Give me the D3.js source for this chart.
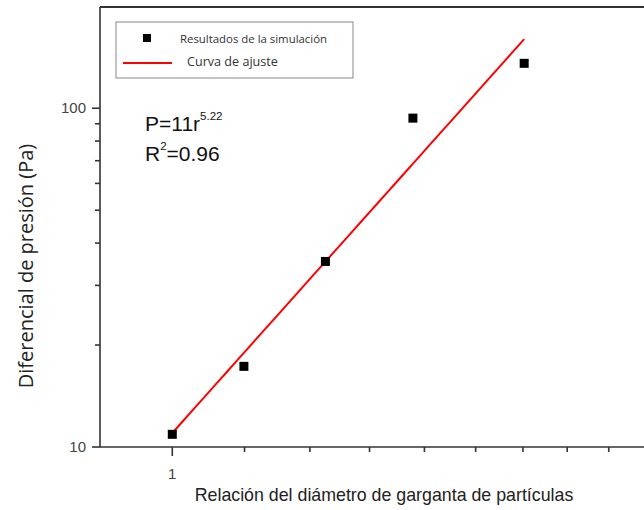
<!DOCTYPE html>
<html>
<head>
<meta charset="utf-8">
<script src="https://cdn.jsdelivr.net/npm/d3@7"></script>
<style>
  body { margin: 0; background: #fff; }
  svg { display: block; }
</style>
</head>
<body>
<svg id="chart" width="644" height="510"></svg>
<script>
// simulation results
var ratio = [1.0, 1.11, 1.25, 1.42, 1.67];
var pressure = [10.9, 17.3, 35.3, 93.5, 135.7];

// fitted power law P = 11 r^5.22
var fitA = 11, fitB = 5.22;
var fitRange = [1.0, 1.67];

var xMajor = [1, 2];
var xMinor = [1.111, 1.222, 1.333, 1.444, 1.556, 1.667, 1.778, 1.889];
var yMajor = [10, 100];
var yMinor = [20, 30, 40, 50, 60, 70, 80, 90];

var svg = d3.select("#chart");
var axisCol = "#333";

// x: 1 at 172.4 px, one decade ~1580 px (the right part falls outside the picture)
var x = d3.scaleLog().domain([0.9, 2.1]).range([100, 100 + 1580 * Math.log10(2.1 / 0.9)]);
var y = d3.scaleLog().domain([10, 199]).range([447, 7]);

// frame: left axis, bottom axis, top line
svg.append("line").attr("x1", 100).attr("x2", 100).attr("y1", 7).attr("y2", 447)
  .attr("stroke", axisCol).attr("stroke-width", 1.6);
svg.append("line").attr("x1", 100).attr("x2", 700).attr("y1", 447).attr("y2", 447)
  .attr("stroke", axisCol).attr("stroke-width", 1.6);
svg.append("line").attr("x1", 100).attr("x2", 700).attr("y1", 7).attr("y2", 7)
  .attr("stroke", axisCol).attr("stroke-width", 2);

// x ticks
var gx = svg.append("g");
gx.selectAll(".maj").data(xMajor).enter().append("line")
  .attr("x1", d => x(d)).attr("x2", d => x(d)).attr("y1", 447).attr("y2", 456)
  .attr("stroke", axisCol).attr("stroke-width", 1.6);
gx.selectAll(".min").data(xMinor).enter().append("line")
  .attr("x1", d => x(d)).attr("x2", d => x(d)).attr("y1", 447).attr("y2", 452)
  .attr("stroke", axisCol).attr("stroke-width", 1.6);
gx.selectAll("text").data(xMajor).enter().append("text")
  .attr("x", d => x(d)).attr("y", 479).attr("text-anchor", "middle")
  .attr("font-family", "Arial, 'Liberation Sans', sans-serif").attr("font-size", 15)
  .attr("fill", "#444").text(d => d);

// y ticks
var gy = svg.append("g");
gy.selectAll(".maj").data(yMajor).enter().append("line")
  .attr("x1", 92).attr("x2", 100).attr("y1", d => y(d)).attr("y2", d => y(d))
  .attr("stroke", axisCol).attr("stroke-width", 1.6);
gy.selectAll(".min").data(yMinor).enter().append("line")
  .attr("x1", 95).attr("x2", 100).attr("y1", d => y(d)).attr("y2", d => y(d))
  .attr("stroke", axisCol).attr("stroke-width", 1.6);
gy.selectAll("text").data(yMajor).enter().append("text")
  .attr("x", 86).attr("y", d => y(d) + 5).attr("text-anchor", "end")
  .attr("font-family", "Arial, 'Liberation Sans', sans-serif").attr("font-size", 15)
  .attr("fill", "#444").text(d => d);

// fitted curve
var fitPts = d3.range(0, 41).map(function(i) {
  var r = fitRange[0] + (fitRange[1] - fitRange[0]) * i / 40;
  return [r, fitA * Math.pow(r, fitB)];
});
svg.append("path").datum(fitPts)
  .attr("d", d3.line().x(d => x(d[0])).y(d => y(d[1])))
  .attr("fill", "none").attr("stroke", "#ff0000").attr("stroke-width", 2);

// simulation points
var sq = 9;
svg.selectAll(".pt").data(ratio).enter().append("rect")
  .attr("x", (d, i) => x(d) - sq / 2).attr("y", (d, i) => y(pressure[i]) - sq / 2)
  .attr("width", sq).attr("height", sq).attr("fill", "#000");

// legend
var lg = svg.append("g");
lg.append("rect").attr("x", 116).attr("y", 22).attr("width", 237).attr("height", 56)
  .attr("fill", "#fff").attr("stroke", "#888").attr("stroke-width", 1);
lg.append("rect").attr("x", 143).attr("y", 34).attr("width", 8).attr("height", 8).attr("fill", "#000");
lg.append("text").attr("x", 180).attr("y", 43)
  .attr("font-family", "'Open Sans', sans-serif").attr("font-size", 11.4).attr("fill", "#333")
  .text("Resultados de la simulación");
lg.append("line").attr("x1", 123).attr("x2", 172).attr("y1", 63).attr("y2", 63)
  .attr("stroke", "#ff0000").attr("stroke-width", 2);
lg.append("text").attr("x", 187).attr("y", 66)
  .attr("font-family", "'Open Sans', sans-serif").attr("font-size", 12.6).attr("fill", "#333")
  .text("Curva de ajuste");

// equation
var eq = svg.append("g").attr("font-family", "Arial, 'Liberation Sans', sans-serif").attr("fill", "#111");
var t1 = eq.append("text").attr("x", 145).attr("y", 131).attr("font-size", 21);
t1.append("tspan").text("P=11r");
t1.append("tspan").attr("dy", -11).attr("font-size", 11.5).text("5.22");
var t2 = eq.append("text").attr("x", 145).attr("y", 161).attr("font-size", 21);
t2.append("tspan").text("R");
t2.append("tspan").attr("dy", -11).attr("font-size", 11.5).text("2");
t2.append("tspan").attr("dy", 11).text("=0.96");

// axis titles
svg.append("text").attr("x", 384).attr("y", 501).attr("text-anchor", "middle")
  .attr("font-family", "Arial, 'Liberation Sans', sans-serif").attr("font-size", 17.8).attr("fill", "#222")
  .text("Relación del diámetro de garganta de partículas");
svg.append("text").attr("transform", "translate(33,266) rotate(-90)").attr("text-anchor", "middle")
  .attr("font-family", "'Open Sans', sans-serif").attr("font-size", 20).attr("fill", "#222")
  .text("Diferencial de presión (Pa)");
</script>
</body>
</html>
